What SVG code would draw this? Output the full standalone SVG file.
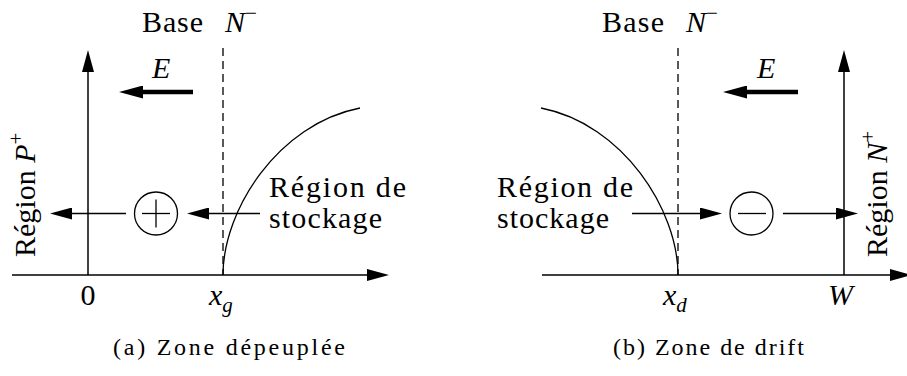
<svg xmlns="http://www.w3.org/2000/svg" width="907" height="376" viewBox="0 0 907 376" font-family="Liberation Serif, serif" font-size="30">
<style>
.ln{stroke:#000;stroke-width:1.5;fill:none}
.th{stroke:#000;stroke-width:1.3;fill:none}
.ds{stroke:#000;stroke-width:1.3;fill:none;stroke-dasharray:8 5}
.ef{stroke:#000;stroke-width:4.5;fill:none}
</style>
<defs>
<marker id="ah" markerUnits="userSpaceOnUse" markerWidth="22" markerHeight="12" viewBox="0 0 22 12" refX="12" refY="6" orient="auto">
<path d="M0,0 L22,6 L0,12 z" fill="#000"/>
</marker>
<marker id="eh" markerUnits="userSpaceOnUse" markerWidth="24" markerHeight="13" viewBox="0 0 24 13" refX="12" refY="6.5" orient="auto">
<path d="M0,0 L24,6.5 L0,13 z" fill="#000"/>
</marker>
</defs>
<rect width="907" height="376" fill="#fff"/>

<g id="panel-a">
<g id="axes-a">
<line class="ln" x1="88" y1="275" x2="88" y2="60" marker-end="url(#ah)"/>
<line class="ln" x1="12" y1="275" x2="379" y2="275" marker-end="url(#ah)"/>
<line class="ds" x1="223" y1="48" x2="223" y2="275"/>
<path class="th" d="M223,275 C223,210 278,124 360,108"/>
</g>
<g id="hole">
<circle class="th" cx="156" cy="213.5" r="21.5"/>
<line class="th" x1="142" y1="213.5" x2="170" y2="213.5"/>
<line class="th" x1="156" y1="199.5" x2="156" y2="227.5"/>
</g>
<g id="labels-a">
<text x="142" y="32" font-family="Liberation Serif, serif" font-size="30" textLength="61">Base</text>
<text x="225" y="32" font-family="Liberation Serif, serif" font-size="30" font-style="italic">N<tspan font-size="21" font-style="normal" dy="-12">&#8722;</tspan></text>
<text x="152" y="78" font-family="Liberation Serif, serif" font-size="30" font-style="italic">E</text>
<text x="269" y="197" font-family="Liberation Serif, serif" font-size="30" textLength="137">R&#233;gion de</text>
<text x="269" y="228" font-family="Liberation Serif, serif" font-size="30" textLength="113">stockage</text>
<text transform="translate(35,257) rotate(-90)" font-family="Liberation Serif, serif" font-size="30">R&#233;gion <tspan font-style="italic">P</tspan><tspan font-size="21" dy="-12">+</tspan></text>
<text x="88" y="305" font-family="Liberation Serif, serif" font-size="30" text-anchor="middle">0</text>
<text x="209" y="305" font-family="Liberation Serif, serif" font-size="30" font-style="italic">x<tspan font-size="21" dy="7">g</tspan></text>
<text x="113" y="355" font-family="Liberation Serif, serif" font-size="24" textLength="232">(a) Zone d&#233;peupl&#233;e</text>
</g>
</g>

<g id="panel-b">
<g id="axes-b">
<line class="ln" x1="844" y1="275" x2="844" y2="60" marker-end="url(#ah)"/>
<line class="ln" x1="542" y1="275" x2="902" y2="275" marker-end="url(#ah)"/>
<line class="ds" x1="678" y1="48" x2="678" y2="275"/>
<path class="th" d="M678,275 C678,210 623,124 541,108"/>
</g>
<g id="electron">
<circle class="th" cx="751.5" cy="213.5" r="21.5"/>
<line class="th" x1="738" y1="213.5" x2="766" y2="213.5"/>
</g>
<g id="labels-b">
<text x="602" y="32" font-family="Liberation Serif, serif" font-size="30" textLength="62">Base</text>
<text x="686" y="32" font-family="Liberation Serif, serif" font-size="30" font-style="italic">N<tspan font-size="21" font-style="normal" dy="-12">&#8722;</tspan></text>
<text x="757" y="78" font-family="Liberation Serif, serif" font-size="30" font-style="italic">E</text>
<text x="497" y="197" font-family="Liberation Serif, serif" font-size="30" textLength="136">R&#233;gion de</text>
<text x="497" y="228" font-family="Liberation Serif, serif" font-size="30" textLength="112">stockage</text>
<text transform="translate(887,257) rotate(-90)" font-family="Liberation Serif, serif" font-size="30">R&#233;gion <tspan font-style="italic">N</tspan><tspan font-size="21" dy="-12">+</tspan></text>
<text x="663" y="305" font-family="Liberation Serif, serif" font-size="30" font-style="italic">x<tspan font-size="21" dy="7">d</tspan></text>
<text x="828" y="305" font-family="Liberation Serif, serif" font-size="30" font-style="italic">W</text>
<text x="613" y="355" font-family="Liberation Serif, serif" font-size="24" textLength="191">(b) Zone de drift</text>
</g>
</g>

<g id="connectors">
<line class="ef" x1="193" y1="92" x2="131" y2="92" marker-end="url(#eh)"/>
<line class="th" x1="260" y1="213.5" x2="197" y2="213.5" marker-end="url(#ah)"/>
<line class="th" x1="126" y1="213.5" x2="60" y2="213.5" marker-end="url(#ah)"/>
<line class="ef" x1="798" y1="92" x2="735" y2="92" marker-end="url(#eh)"/>
<line class="th" x1="632" y1="213.5" x2="712" y2="213.5" marker-end="url(#ah)"/>
<line class="th" x1="783" y1="213.5" x2="848" y2="213.5" marker-end="url(#ah)"/>
</g>
</svg>
